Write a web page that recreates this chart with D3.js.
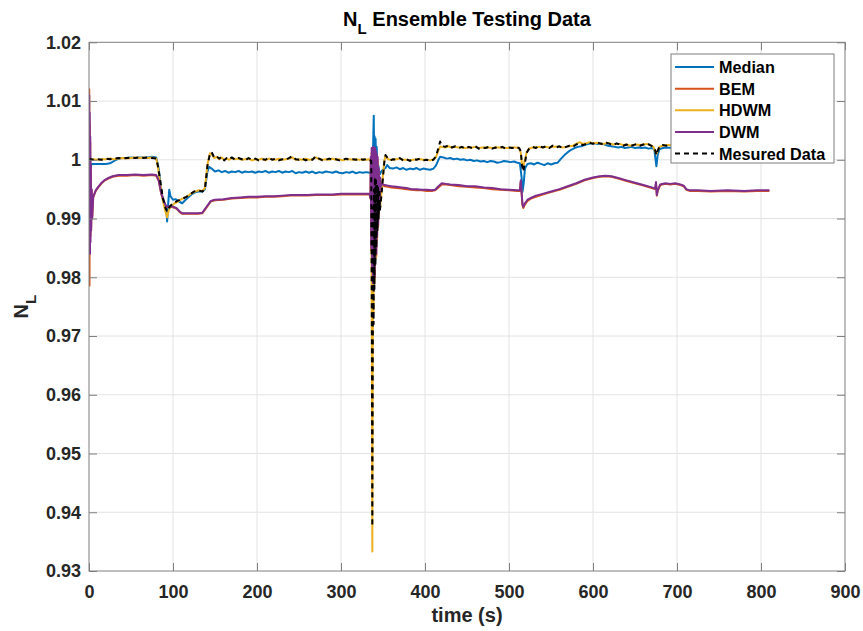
<!DOCTYPE html>
<html>
<head>
<meta charset="utf-8">
<script src="https://cdn.jsdelivr.net/npm/d3@7"></script>
<style>
  html, body { margin: 0; padding: 0; background: #fff; }
  svg { display: block; font-family: "Liberation Sans", Arial, Helvetica, sans-serif; font-weight: bold; }
</style>
</head>
<body>
<svg id="chart" width="863" height="631"></svg>
<script>
// ---- data: [time (s), N_L] ----
const xTicks = [0, 100, 200, 300, 400, 500, 600, 700, 800, 900];
const yTicks = [0.93, 0.94, 0.95, 0.96, 0.97, 0.98, 0.99, 1.00, 1.01, 1.02];
const yTickLabels = ["0.93", "0.94", "0.95", "0.96", "0.97", "0.98", "0.99", "1", "1.01", "1.02"];
const seriesNames = ["Median", "BEM", "HDWM", "DWM", "Mesured Data"];

const medianData = [[0,1.0000],[0.4,1.0030],[0.8,0.9960],[1.2,1.0010],[1.8,0.9985],[3,0.9993],[10,0.9993],[20,0.9993],[25,0.9994],[30,0.9998],[35,1.0002],[40,1.0003],[45,1.0003],[50,1.0004],[55,1.0003],[60,1.0004],[65,1.0004],[70,1.0004],[75,1.0005],[80,1.0004],[83,0.9985],[86,0.9950],[88,0.9932],[90,0.9925],[92,0.9920],[93,0.9895],[94.5,0.9930],[95.5,0.9949],[97,0.9938],[100,0.9932],[103,0.9933],[107,0.9929],[111,0.9926],[115,0.9932],[119,0.9937],[123,0.9942],[127,0.9945],[131,0.9946],[135,0.9946],[138,0.9950],[141,0.9980],[143,0.9988],[146,0.9985],[150,0.9980],[154,0.9982],[158,0.9979],[162,0.9981],[166,0.9978],[170,0.9980],[174,0.9979],[178,0.9981],[182,0.9978],[186,0.9980],[190,0.9979],[194,0.9980],[198,0.9978],[202,0.9980],[206,0.9979],[210,0.9981],[214,0.9978],[218,0.9980],[222,0.9979],[226,0.9981],[230,0.9978],[234,0.9980],[238,0.9979],[242,0.9981],[246,0.9977],[250,0.9979],[254,0.9978],[258,0.9980],[262,0.9978],[266,0.9980],[270,0.9977],[274,0.9979],[278,0.9978],[282,0.9980],[286,0.9979],[290,0.9978],[294,0.9980],[298,0.9978],[302,0.9977],[306,0.9979],[310,0.9978],[314,0.9980],[318,0.9977],[322,0.9979],[326,0.9978],[330,0.9979],[334,0.9978],[336,0.9977],[337,0.9975],[338,1.0010],[339,1.0075],[339.5,0.9990],[340,1.0040],[340.6,0.9972],[341.2,1.0036],[341.8,0.9978],[342.5,1.0022],[343.3,0.9982],[344.5,0.9990],[346,0.9975],[348,0.9980],[350,0.9983],[353,0.9986],[355,0.9991],[358,0.9986],[362,0.9985],[366,0.9987],[370,0.9984],[374,0.9986],[378,0.9983],[382,0.9985],[386,0.9984],[390,0.9986],[394,0.9983],[398,0.9985],[402,0.9984],[406,0.9983],[410,0.9985],[413,0.9990],[416,1.0000],[418,1.0005],[422,1.0004],[426,1.0002],[430,1.0003],[434,1.0001],[438,1.0002],[442,1.0000],[446,1.0001],[450,0.9999],[454,1.0000],[458,0.9998],[462,0.9999],[466,0.9997],[470,0.9998],[474,0.9996],[478,0.9998],[482,0.9997],[486,0.9995],[490,0.9996],[494,0.9998],[498,0.9997],[502,0.9996],[506,0.9997],[510,0.9995],[513,0.9994],[515,0.9970],[516,0.9945],[517.5,0.9960],[519,0.9985],[522,0.9993],[526,0.9994],[530,0.9992],[534,0.9995],[538,0.9993],[542,0.9991],[546,0.9994],[550,0.9992],[554,0.9994],[558,0.9995],[562,1.0002],[566,1.0008],[570,1.0013],[574,1.0017],[578,1.0020],[582,1.0022],[586,1.0023],[590,1.0025],[594,1.0027],[598,1.0028],[602,1.0028],[606,1.0027],[610,1.0028],[614,1.0026],[618,1.0024],[622,1.0023],[626,1.0022],[630,1.0021],[634,1.0022],[638,1.0020],[642,1.0021],[646,1.0022],[650,1.0020],[654,1.0021],[658,1.0020],[662,1.0021],[666,1.0019],[670,1.0020],[673,1.0018],[674.5,1.0000],[675.5,0.9989],[677,1.0008],[679,1.0018],[683,1.0020],[688,1.0021],[694,1.0020],[700,1.0021],[706,1.0020],[710,1.0021]];

const bemData = [[0,1.0000],[0.3,1.0120],[0.6,0.9786],[0.9,1.0060],[1.2,0.9850],[1.5,1.0030],[1.8,0.9870],[2.2,0.9980],[2.6,0.9885],[3.2,0.9948],[3.8,0.9902],[5,0.9936],[8,0.9947],[11,0.9953],[15,0.9960],[19,0.9965],[23,0.9968],[28,0.9971],[35,0.9973],[45,0.9973],[55,0.9974],[65,0.9973],[75,0.9974],[80,0.9973],[83,0.9964],[86,0.9942],[89,0.9929],[92,0.9919],[96,0.9920],[100,0.9919],[104,0.9917],[108,0.9911],[111,0.9908],[120,0.9908],[130,0.9908],[135,0.9909],[140,0.9919],[145,0.9929],[150,0.9931],[160,0.9932],[170,0.9934],[180,0.9935],[190,0.9936],[200,0.9936],[210,0.9937],[220,0.9937],[230,0.9938],[240,0.9939],[250,0.9939],[260,0.9939],[270,0.9940],[280,0.9940],[290,0.9940],[300,0.9941],[310,0.9941],[320,0.9941],[330,0.9941],[334,0.9941],[335,0.9934],[335.5,1.0000],[336,0.9845],[336.5,1.0012],[337,0.9805],[337.5,1.0010],[338,0.9788],[338.5,1.0015],[339,0.9825],[339.5,1.0012],[340,0.9798],[340.5,1.0014],[341,0.9845],[341.5,1.0010],[342,0.9836],[342.5,1.0006],[343,0.9866],[343.6,1.0000],[344.2,0.9886],[345,0.9982],[345.8,0.9917],[346.6,0.9968],[347.5,0.9953],[349,0.9957],[352,0.9955],[356,0.9954],[360,0.9953],[366,0.9952],[372,0.9951],[378,0.9950],[384,0.9949],[390,0.9948],[396,0.9948],[402,0.9947],[408,0.9947],[412,0.9948],[416,0.9953],[420,0.9958],[425,0.9958],[430,0.9957],[440,0.9955],[450,0.9954],[460,0.9953],[470,0.9952],[480,0.9950],[490,0.9949],[500,0.9948],[510,0.9947],[513,0.9947],[514,0.9962],[515,0.9943],[516,0.9923],[517,0.9918],[519,0.9924],[522,0.9930],[526,0.9934],[532,0.9937],[540,0.9941],[550,0.9945],[560,0.9949],[570,0.9954],[580,0.9959],[590,0.9965],[600,0.9969],[608,0.9971],[615,0.9972],[622,0.9971],[630,0.9968],[640,0.9964],[650,0.9960],[660,0.9956],[670,0.9952],[674,0.9950],[675,0.9960],[676,0.9939],[677,0.9947],[680,0.9957],[686,0.9959],[692,0.9958],[698,0.9959],[704,0.9957],[708,0.9955],[711,0.9949],[715,0.9947],[725,0.9947],[740,0.9946],[760,0.9947],[780,0.9946],[795,0.9947],[810,0.9947]];

const hdwmData = [[0,1.0000],[2,1.0000],[5,1.0001],[10,1.0000],[15,1.0001],[20,1.0001],[25,1.0002],[30,1.0001],[35,1.0002],[40,1.0003],[45,1.0002],[50,1.0003],[55,1.0004],[60,1.0003],[65,1.0004],[70,1.0003],[75,1.0004],[80,1.0002],[82,0.9988],[85,0.9958],[88,0.9930],[91,0.9912],[93,0.9902],[95,0.9915],[98,0.9921],[102,0.9926],[106,0.9929],[110,0.9933],[116,0.9937],[120,0.9941],[125,0.9945],[130,0.9948],[135,0.9947],[138,0.9952],[141,0.9992],[144,1.0011],[146,1.0010],[149,1.0003],[152,1.0005],[155,1.0001],[158,1.0004],[161,1.0000],[164,1.0002],[167,1.0000],[170,1.0003],[174,1.0001],[178,1.0002],[182,1.0000],[186,1.0001],[190,1.0002],[194,0.9999],[198,1.0001],[202,1.0000],[206,1.0002],[210,0.9999],[214,1.0002],[218,1.0001],[222,1.0000],[226,1.0002],[230,1.0000],[234,1.0001],[238,1.0002],[242,1.0004],[246,1.0000],[250,1.0001],[254,1.0000],[258,1.0002],[262,1.0000],[266,1.0001],[270,1.0004],[274,1.0001],[278,1.0000],[282,1.0001],[286,1.0000],[290,1.0002],[294,1.0000],[298,1.0001],[302,0.9999],[306,1.0001],[310,1.0001],[314,1.0000],[318,1.0001],[322,1.0000],[326,1.0001],[330,1.0000],[334,1.0001],[336,0.9997],[336.8,0.9650],[337.3,0.9333],[337.8,0.9680],[338.3,0.9930],[338.8,0.9740],[339.3,0.9955],[339.8,0.9790],[340.4,0.9972],[341,0.9830],[341.6,0.9966],[342.2,0.9860],[342.8,0.9962],[343.4,0.9885],[344,0.9956],[344.8,0.9905],[345.6,0.9952],[346.4,0.9918],[347.2,0.9930],[348.5,0.9950],[350,0.9975],[351.5,0.9998],[353,1.0007],[356,1.0001],[359,1.0000],[362,1.0000],[366,1.0001],[370,1.0002],[374,1.0000],[378,1.0000],[382,0.9999],[386,1.0000],[390,1.0001],[394,1.0001],[398,1.0000],[402,1.0000],[406,0.9999],[410,1.0001],[413,1.0004],[416,1.0016],[418,1.0022],[420,1.0022],[424,1.0021],[428,1.0023],[432,1.0021],[436,1.0022],[440,1.0021],[444,1.0021],[448,1.0020],[452,1.0021],[456,1.0021],[460,1.0022],[464,1.0020],[468,1.0021],[472,1.0021],[476,1.0021],[480,1.0020],[484,1.0021],[488,1.0021],[492,1.0021],[496,1.0020],[500,1.0020],[504,1.0021],[508,1.0021],[512,1.0020],[514,1.0012],[515.5,0.9992],[517,0.9990],[519,1.0000],[521,1.0013],[524,1.0019],[528,1.0021],[532,1.0021],[536,1.0022],[540,1.0021],[544,1.0022],[548,1.0021],[552,1.0022],[556,1.0022],[560,1.0022],[564,1.0021],[568,1.0022],[572,1.0023],[576,1.0024],[580,1.0027],[584,1.0030],[588,1.0027],[592,1.0028],[596,1.0030],[600,1.0028],[604,1.0029],[608,1.0028],[612,1.0027],[616,1.0028],[620,1.0028],[624,1.0026],[628,1.0027],[632,1.0027],[636,1.0025],[640,1.0026],[644,1.0024],[648,1.0025],[652,1.0026],[656,1.0025],[660,1.0026],[664,1.0027],[668,1.0025],[672,1.0022],[674,1.0014],[675.5,1.0010],[677,1.0016],[679,1.0022],[683,1.0024],[687,1.0025],[692,1.0025],[697,1.0025],[703,1.0024],[710,1.0024]];

const dwmData = [[0,1.0000],[0.3,1.0110],[0.6,0.9900],[0.9,1.0080],[1.2,0.9840],[1.5,1.0040],[1.8,0.9860],[2.2,0.9990],[2.6,0.9880],[3.2,0.9950],[3.8,0.9900],[5,0.9937],[8,0.9948],[11,0.9954],[15,0.9961],[19,0.9966],[23,0.9969],[28,0.9972],[35,0.9974],[45,0.9974],[55,0.9975],[65,0.9974],[75,0.9975],[80,0.9974],[83,0.9965],[86,0.9943],[89,0.9930],[92,0.9920],[96,0.9921],[100,0.9920],[104,0.9918],[108,0.9912],[111,0.9909],[120,0.9909],[130,0.9909],[135,0.9910],[140,0.9920],[145,0.9930],[150,0.9932],[160,0.9933],[170,0.9935],[180,0.9936],[190,0.9937],[200,0.9937],[210,0.9938],[220,0.9938],[230,0.9939],[240,0.9940],[250,0.9940],[260,0.9940],[270,0.9941],[280,0.9941],[290,0.9941],[300,0.9942],[310,0.9942],[320,0.9942],[330,0.9942],[334,0.9942],[335,0.9935],[335.5,1.0005],[336,0.9850],[336.5,1.0020],[337,0.9810],[337.5,1.0015],[338,0.9790],[338.5,1.0022],[339,0.9830],[339.5,1.0018],[340,0.9800],[340.5,1.0020],[341,0.9850],[341.5,1.0015],[342,0.9840],[342.5,1.0010],[343,0.9870],[343.6,1.0005],[344.2,0.9890],[345,0.9985],[345.8,0.9920],[346.6,0.9970],[347.5,0.9955],[349,0.9959],[352,0.9957],[356,0.9956],[360,0.9955],[366,0.9954],[372,0.9953],[378,0.9952],[384,0.9950],[390,0.9950],[396,0.9949],[402,0.9949],[408,0.9948],[412,0.9949],[416,0.9955],[420,0.9960],[425,0.9959],[430,0.9958],[440,0.9957],[450,0.9955],[460,0.9955],[470,0.9953],[480,0.9952],[490,0.9950],[500,0.9949],[510,0.9948],[513,0.9948],[514,0.9965],[515,0.9945],[516,0.9925],[517,0.9920],[519,0.9926],[522,0.9932],[526,0.9935],[532,0.9939],[540,0.9942],[550,0.9946],[560,0.9950],[570,0.9955],[580,0.9960],[590,0.9966],[600,0.9970],[608,0.9972],[615,0.9973],[622,0.9972],[630,0.9969],[640,0.9965],[650,0.9961],[660,0.9957],[670,0.9953],[674,0.9951],[675,0.9962],[676,0.9940],[677,0.9948],[680,0.9958],[686,0.9960],[692,0.9959],[698,0.9960],[704,0.9958],[708,0.9956],[711,0.9950],[715,0.9948],[725,0.9948],[740,0.9947],[760,0.9948],[780,0.9947],[795,0.9948],[810,0.9948]];

const measuredData = [[0,1.0000],[2,1.0001],[5,1.0000],[10,1.0001],[15,1.0000],[20,1.0002],[25,1.0001],[30,1.0002],[35,1.0003],[40,1.0002],[45,1.0003],[50,1.0004],[55,1.0003],[60,1.0004],[65,1.0003],[70,1.0004],[75,1.0003],[80,1.0002],[82,0.9990],[85,0.9962],[88,0.9935],[91,0.9918],[93,0.9912],[96,0.9920],[100,0.9926],[105,0.9930],[110,0.9933],[116,0.9937],[120,0.9941],[125,0.9946],[130,0.9948],[135,0.9946],[138,0.9950],[141,0.9990],[144,1.0010],[146,1.0013],[149,1.0004],[152,1.0006],[155,1.0002],[158,1.0005],[161,0.9999],[164,1.0003],[167,1.0001],[170,1.0004],[174,1.0000],[178,1.0003],[182,1.0001],[186,0.9999],[190,1.0003],[194,1.0000],[198,1.0002],[202,0.9999],[206,1.0001],[210,1.0000],[214,1.0004],[218,1.0000],[222,1.0002],[226,0.9999],[230,1.0001],[234,1.0000],[238,1.0003],[242,1.0006],[246,1.0001],[250,1.0000],[254,1.0002],[258,0.9999],[262,1.0001],[266,1.0000],[270,1.0006],[274,1.0002],[278,0.9999],[282,1.0000],[286,1.0002],[290,1.0000],[294,1.0001],[298,0.9999],[302,1.0000],[306,1.0002],[310,1.0000],[314,1.0001],[318,1.0000],[322,1.0002],[326,1.0000],[330,1.0001],[334,1.0000],[336,0.9998],[336.8,0.9700],[337.3,0.9376],[337.8,0.9650],[338.3,0.9920],[338.8,0.9720],[339.3,0.9950],[339.8,0.9780],[340.4,0.9970],[341,0.9820],[341.6,0.9965],[342.2,0.9850],[342.8,0.9960],[343.4,0.9880],[344,0.9955],[344.8,0.9900],[345.6,0.9950],[346.4,0.9915],[347.2,0.9925],[348.5,0.9945],[350,0.9970],[351.5,0.9995],[353,1.0008],[356,1.0002],[359,0.9999],[362,1.0001],[366,1.0000],[370,1.0003],[374,0.9999],[378,1.0001],[382,0.9998],[386,1.0001],[390,1.0000],[394,1.0002],[398,0.9999],[402,1.0000],[406,0.9998],[410,1.0000],[413,1.0006],[416,1.0020],[418,1.0031],[420,1.0024],[424,1.0022],[428,1.0025],[432,1.0021],[436,1.0023],[440,1.0020],[444,1.0022],[448,1.0019],[452,1.0022],[456,1.0020],[460,1.0023],[464,1.0019],[468,1.0021],[472,1.0020],[476,1.0022],[480,1.0019],[484,1.0021],[488,1.0020],[492,1.0022],[496,1.0019],[500,1.0021],[504,1.0020],[508,1.0022],[512,1.0020],[514,1.0015],[515.5,0.9990],[517,0.9980],[519,0.9995],[521,1.0012],[524,1.0019],[528,1.0022],[532,1.0020],[536,1.0024],[540,1.0021],[544,1.0023],[548,1.0020],[552,1.0024],[556,1.0021],[560,1.0023],[564,1.0020],[568,1.0022],[572,1.0024],[576,1.0022],[580,1.0026],[584,1.0028],[588,1.0025],[592,1.0027],[596,1.0029],[600,1.0027],[604,1.0030],[608,1.0028],[612,1.0026],[616,1.0029],[620,1.0027],[624,1.0025],[628,1.0028],[632,1.0026],[636,1.0024],[640,1.0026],[644,1.0023],[648,1.0025],[652,1.0027],[656,1.0024],[660,1.0026],[664,1.0028],[668,1.0025],[672,1.0022],[674,1.0016],[675.5,1.0008],[677,1.0015],[679,1.0022],[683,1.0025],[687,1.0024],[692,1.0026],[697,1.0025],[703,1.0024],[710,1.0025]];

// ---- layout ----
const svg = d3.select("#chart");
const margin = { left: 89, right: 18, top: 42.3, bottom: 60 };
const W = 863, H = 631;
const x0 = margin.left, x1 = W - margin.right;        // 89 .. 845
const y0 = margin.top, y1 = H - margin.bottom;        // 42.3 .. 571

const x = d3.scaleLinear().domain([0, 900]).range([x0, x1]);
const y = d3.scaleLinear().domain([0.93, 1.02]).range([y1, y0]);

const textColor = "#262626";
const axisColor = "#7f7f7f";

// grid
const grid = svg.append("g");
grid.selectAll(".gx").data(xTicks.slice(1, -1)).join("line")
  .attr("x1", d => x(d)).attr("x2", d => x(d))
  .attr("y1", y0).attr("y2", y1)
  .attr("stroke", "#e3e3e3").attr("stroke-width", 1);
grid.selectAll(".gy").data(yTicks.slice(1, -1)).join("line")
  .attr("y1", d => y(d)).attr("y2", d => y(d))
  .attr("x1", x0).attr("x2", x1)
  .attr("stroke", "#e3e3e3").attr("stroke-width", 1);

// clip for data lines
svg.append("defs").append("clipPath").attr("id", "plotClip")
  .append("rect").attr("x", x0).attr("y", y0).attr("width", x1 - x0).attr("height", y1 - y0);

const line = d3.line().x(d => x(d[0])).y(d => y(d[1]));
const plot = svg.append("g").attr("clip-path", "url(#plotClip)");

const series = [
  { name: seriesNames[0], data: medianData,   color: "#0072BD", dash: null },
  { name: seriesNames[1], data: bemData,      color: "#D95319", dash: null },
  { name: seriesNames[2], data: hdwmData,     color: "#EDB120", dash: null },
  { name: seriesNames[3], data: dwmData,      color: "#7E2F8E", dash: null },
  { name: seriesNames[4], data: measuredData, color: "#000000", dash: "5,4" }
];

series.forEach(s => {
  plot.append("path")
    .datum(s.data)
    .attr("d", line)
    .attr("fill", "none")
    .attr("stroke", s.color)
    .attr("stroke-width", 2)
    .attr("stroke-linejoin", "round")
    .attr("stroke-dasharray", s.dash);
});

// axes (MATLAB-style box with inward ticks on all four sides)
const tickLen = 8;
const axes = svg.append("g");
axes.append("rect").attr("x", x0).attr("y", y0).attr("width", x1 - x0).attr("height", y1 - y0)
  .attr("fill", "none").attr("stroke", axisColor).attr("stroke-width", 1);

const xAxisB = d3.axisBottom(x).tickValues(xTicks).tickSizeInner(-tickLen).tickSizeOuter(0).tickPadding(14);
const xAxisT = d3.axisTop(x).tickValues(xTicks).tickSizeInner(-tickLen).tickSizeOuter(0).tickFormat("");
const yAxisL = d3.axisLeft(y).tickValues(yTicks).tickSizeInner(-tickLen).tickSizeOuter(0).tickPadding(14)
  .tickFormat((d, i) => yTickLabels[i]);
const yAxisR = d3.axisRight(y).tickValues(yTicks).tickSizeInner(-tickLen).tickSizeOuter(0).tickFormat("");

function styleAxis(g) {
  g.select(".domain").remove();
  g.selectAll(".tick line").attr("stroke", axisColor);
  g.selectAll(".tick text").attr("fill", textColor)
    .style("font-family", "'Liberation Sans', Arial, sans-serif")
    .style("font-weight", "bold").style("font-size", "18px");
}
axes.append("g").attr("transform", `translate(0,${y1})`).call(xAxisB).call(styleAxis)
  .selectAll(".tick text").attr("dy", "0.72em");
axes.append("g").attr("transform", `translate(0,${y0})`).call(xAxisT).call(styleAxis);
axes.append("g").attr("transform", `translate(${x0},0)`).call(yAxisL).call(styleAxis)
  .selectAll(".tick text").attr("dx", "6");
axes.append("g").attr("transform", `translate(${x1},0)`).call(yAxisR).call(styleAxis);

// title with subscript
const title = svg.append("text")
  .attr("x", (x0 + x1) / 2).attr("y", 26)
  .attr("text-anchor", "middle")
  .attr("fill", "#000").style("font-size", "20px");
title.append("tspan").text("N");
title.append("tspan").attr("dy", 8).style("font-size", "15px").text("L");
title.append("tspan").attr("dy", -8).text(" Ensemble Testing Data");

// x label
svg.append("text")
  .attr("x", (x0 + x1) / 2).attr("y", 622)
  .attr("text-anchor", "middle")
  .attr("fill", textColor).style("font-size", "20px")
  .text("time (s)");

// y label with subscript
const ylab = svg.append("text")
  .attr("transform", `translate(28,${(y0 + y1) / 2}) rotate(-90)`)
  .attr("text-anchor", "middle")
  .attr("fill", textColor).style("font-size", "20px");
ylab.append("tspan").text("N");
ylab.append("tspan").attr("dy", 8).style("font-size", "15px").text("L");

// legend
const lg = svg.append("g");
lg.append("rect").attr("x", 671).attr("y", 54).attr("width", 163).attr("height", 109)
  .attr("fill", "#fff").attr("stroke", axisColor).attr("stroke-width", 1);
const rowY = d3.scaleLinear().domain([0, 4]).range([67, 153.5]);
series.forEach((s, i) => {
  const yy = rowY(i);
  lg.append("line")
    .attr("x1", 675).attr("x2", 714).attr("y1", yy).attr("y2", yy)
    .attr("stroke", s.color).attr("stroke-width", 2)
    .attr("stroke-dasharray", s.dash);
  lg.append("text")
    .attr("x", 719).attr("y", yy + 6)
    .attr("fill", "#000").style("font-size", "16.2px")
    .text(s.name);
});
</script>
</body>
</html>
